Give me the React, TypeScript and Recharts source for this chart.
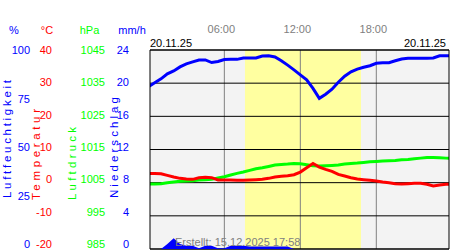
import React from 'react';
import {
  ComposedChart,
  Line,
  Area,
  XAxis,
  YAxis,
  CartesianGrid,
  ReferenceArea,
  ReferenceLine,
} from 'recharts';

// half-hour steps over the day 20.11.25
const hours = Array.from({ length: 49 }, (_, i) => i / 2);

const humidity = [
  81.5, 83.5, 85.5, 88, 89.5, 91.5, 93, 94, 95, 95,
  93.7, 94.2, 95.2, 95.3, 95.3, 96, 96, 96, 97, 97.1,
  96.5, 94.6, 92.4, 90, 87.5, 85, 80.7, 75.7, 77.8, 80.3,
  83.8, 86.8, 89, 90.4, 91.3, 92.1, 93.3, 93.6, 93.6, 94.6,
  95.5, 95.8, 95.8, 95.8, 95.8, 96, 97.1, 97.1, 97.1,
];

const temperature = [
  2.8, 2.8, 2.7, 2.2, 1.7, 1.3, 1.1, 1.0, 1.5, 1.6,
  1.5, 0.8, 0.8, 0.8, 0.7, 0.7, 0.8, 0.9, 1.0, 1.3,
  1.7, 1.9, 2.1, 2.4, 3.2, 4.5, 5.8, 4.7, 4.0, 3.4,
  2.5, 2.0, 1.5, 1.1, 0.9, 0.7, 0.5, 0.2, 0.0, -0.3,
  -0.4, -0.3, -0.2, -0.2, -0.5, -1.0, -0.7, -0.5, -0.5,
];

const pressure = [
  1004.6, 1004.6, 1004.7, 1005.0, 1005.2, 1005.4, 1005.5, 1005.6, 1005.8, 1005.9,
  1006.0, 1006.4, 1006.8, 1007.3, 1007.8, 1008.2, 1008.7, 1009.2, 1009.5, 1009.9,
  1010.3, 1010.5, 1010.6, 1010.8, 1010.7, 1010.4, 1010.1, 1010.0, 1010.1, 1010.2,
  1010.3, 1010.6, 1010.8, 1010.9, 1011.1, 1011.3, 1011.4, 1011.5, 1011.6, 1011.7,
  1011.9, 1012.0, 1012.2, 1012.4, 1012.6, 1012.6, 1012.5, 1012.4, 1012.3,
];

const rain = [
  0, 0, 0, 0.6, 1.3, 0.6, 0.4, 0.4, 0.1, 0.4,
  0.4, 0.1, 0.1, 0.4, 0.4, 0.4, 0.3, 0.3, 0.3, 0.3,
  0.3, 0.3, 0.3, 0, 0, 0, 0, 0, 0, 0,
  0, 0, 0, 0, 0, 0, 0, 0, 0, 0,
  0, 0, 0, 0, 0, 0, 0, 0, 0,
];

const timeTicks = [6, 12, 18];
const humidityTicks = [0, 25, 50, 75, 100];
const tempTicks = [-20, -10, 0, 10, 20, 30, 40];
const pressureTicks = [985, 995, 1005, 1015, 1025, 1035, 1045];
const rainTicks = [0, 4, 8, 12, 16, 20, 24];

const timeDomain = [0.13, 23.74];
const daylight = [7.63, 16.79];
const dateLabel = '20.11.25';
const createdLabel = 'Erstellt: 15.12.2025 17:58';

const data = hours.map((hour, i) => ({
  hour,
  humidity: humidity[i],
  temperature: temperature[i],
  pressure: pressure[i],
  rain: rain[i],
}));

const FONT = '"Liberation Sans", Arial, Helvetica, sans-serif';
const BLUE = '#0000ff';
const RED = '#ff0000';
const GREEN = '#00ff00';
const PLOT_TOP = 50;

// left axes get stacked by id order: "a" sits next to the plot, "d" outermost
const RAIN_AXIS = 'a_rain';
const HPA_AXIS = 'b_hpa';
const TEMP_AXIS = 'c_temp';
const HUM_AXIS = 'd_hum';

// tick labels drift a little upward towards the bottom, like the original
const yTick = (color: string) => (props: any) => {
  const { x, y, payload } = props;
  const dy = 4 - (y - PLOT_TOP) * 0.025;
  return (
    <text x={x} y={y} dy={dy} textAnchor="end" fill={color} fontSize={11} fontFamily={FONT}>
      {payload.value}
    </text>
  );
};

const timeTick = (props: any) => {
  const { x, y, payload } = props;
  const label = `${String(payload.value).padStart(2, '0')}:00`;
  return (
    <text x={x - 3} y={y - 17} textAnchor="middle" fill="#808080" fontSize={11} fontFamily={FONT}>
      {label}
    </text>
  );
};

const Labels = () => (
  <svg
    width={450}
    height={250}
    style={{ position: 'absolute', left: 0, top: 0, pointerEvents: 'none' }}
    fontFamily={FONT}
  >
    <g fontSize={11} textAnchor="middle">
      <text x={14} y={34} fill={BLUE}>%</text>
      <text x={47} y={34} fill={RED}>°C</text>
      <text x={89.5} y={34} fill={GREEN}>hPa</text>
      <text x={132} y={34} fill={BLUE}>mm/h</text>
    </g>
    <g fontSize={11.5}>
      <text transform="translate(10.5,198) rotate(-90)" fill={BLUE} textLength={118} lengthAdjust="spacing">
        Luftfeuchtigkeit
      </text>
      <text transform="translate(40,200) rotate(-90)" fill={RED} textLength={91} lengthAdjust="spacing">
        Temperatur
      </text>
      <text transform="translate(76,200) rotate(-90)" fill={GREEN} textLength={73} lengthAdjust="spacing">
        Luftdruck
      </text>
      <text transform="translate(118,198) rotate(-90)" fill={BLUE} textLength={101} lengthAdjust="spacing">
        Niederschlag
      </text>
    </g>
    <g fontSize={11} fill="#000">
      <text x={150} y={47}>{dateLabel}</text>
      <text x={446} y={47} textAnchor="end">{dateLabel}</text>
    </g>
    <text x={175} y={246} fontSize={11} fill="#808080">{createdLabel}</text>
  </svg>
);

export default function App() {
  return (
    <div
      style={{
        position: 'absolute',
        left: 0,
        top: 0,
        width: 450,
        height: 250,
        overflow: 'hidden',
        background: '#fff',
      }}
    >
      <ComposedChart width={450} height={250} data={data} margin={{ top: 0, right: 0, bottom: 1, left: 0 }}>
        <XAxis
          dataKey="hour"
          type="number"
          orientation="top"
          domain={timeDomain}
          allowDataOverflow
          ticks={timeTicks}
          interval={0}
          height={50}
          axisLine={false}
          tickLine={false}
          tickSize={0}
          tickMargin={0}
          tick={timeTick}
        />
        <YAxis
          yAxisId={RAIN_AXIS}
          domain={[0, 24]}
          ticks={rainTicks}
          interval={0}
          width={45}
          tickSize={0}
          tickMargin={21}
          tickLine={false}
          axisLine={{ stroke: '#000' }}
          tick={yTick(BLUE)}
          allowDataOverflow
        />
        <YAxis
          yAxisId={HPA_AXIS}
          domain={[985, 1045]}
          ticks={pressureTicks}
          interval={0}
          width={53}
          tickSize={0}
          tickMargin={0}
          tickLine={false}
          axisLine={false}
          tick={yTick(GREEN)}
          allowDataOverflow
        />
        <YAxis
          yAxisId={TEMP_AXIS}
          domain={[-20, 40]}
          ticks={tempTicks}
          interval={0}
          width={22}
          tickSize={0}
          tickMargin={0}
          tickLine={false}
          axisLine={false}
          tick={yTick(RED)}
          allowDataOverflow
        />
        <YAxis
          yAxisId={HUM_AXIS}
          domain={[0, 100]}
          ticks={humidityTicks}
          interval={0}
          width={30}
          tickSize={0}
          tickMargin={0}
          tickLine={false}
          axisLine={false}
          tick={yTick(BLUE)}
          allowDataOverflow
        />
        <YAxis
          yAxisId="z_border"
          orientation="right"
          domain={[0, 1]}
          width={1}
          tick={false}
          tickLine={false}
          axisLine={{ stroke: '#000' }}
        />

        <CartesianGrid yAxisId={HPA_AXIS} horizontal={false} vertical={false} fill="#f3f3f3" zIndex={-300} />
        <ReferenceArea
          yAxisId={HPA_AXIS}
          x1={daylight[0]}
          x2={daylight[1]}
          fill="#ffffa0"
          fillOpacity={1}
          stroke="none"
          zIndex={-250}
        />
        {timeTicks.map((t) => (
          <ReferenceLine key={t} yAxisId={HPA_AXIS} x={t} stroke="#808080" zIndex={-200} />
        ))}
        <CartesianGrid yAxisId={HPA_AXIS} vertical={false} stroke="#000" zIndex={-100} />
        <ReferenceLine yAxisId={HPA_AXIS} y={pressureTicks[pressureTicks.length - 1]} stroke="#000" zIndex={-100} />
        <ReferenceLine yAxisId={HPA_AXIS} y={pressureTicks[0]} stroke="#000" zIndex={-100} />

        <Area
          yAxisId={RAIN_AXIS}
          dataKey="rain"
          type="linear"
          stroke="none"
          fill={BLUE}
          fillOpacity={1}
          isAnimationActive={false}
        />
        <Line
          yAxisId={HUM_AXIS}
          dataKey="humidity"
          type="linear"
          stroke={BLUE}
          strokeWidth={3}
          dot={false}
          isAnimationActive={false}
        />
        <Line
          yAxisId={HPA_AXIS}
          dataKey="pressure"
          type="linear"
          stroke={GREEN}
          strokeWidth={3}
          dot={false}
          isAnimationActive={false}
        />
        <Line
          yAxisId={TEMP_AXIS}
          dataKey="temperature"
          type="linear"
          stroke={RED}
          strokeWidth={3}
          dot={false}
          isAnimationActive={false}
        />
      </ComposedChart>
      <Labels />
    </div>
  );
}
